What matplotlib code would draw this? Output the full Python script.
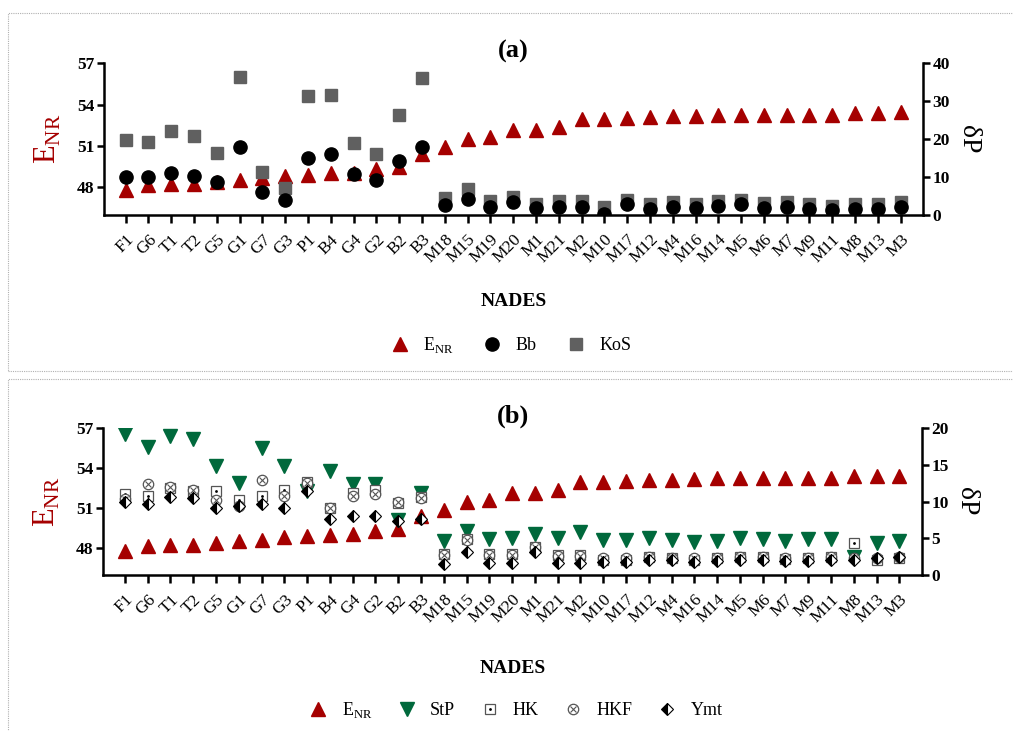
import matplotlib
matplotlib.use("Agg")
import matplotlib.pyplot as plt
from matplotlib.legend_handler import HandlerTuple
from matplotlib.patches import Rectangle

plt.rcParams['font.family'] = ['Liberation Serif', 'DejaVu Serif']
plt.rcParams['mathtext.fontset'] = 'custom'
plt.rcParams['mathtext.rm'] = 'Liberation Serif'

categories = ['F1', 'G6', 'T1', 'T2', 'G5', 'G1', 'G7', 'G3', 'P1', 'B4', 'G4', 'G2', 'B2', 'B3',
              'M18', 'M15', 'M19', 'M20', 'M1', 'M21', 'M2', 'M10', 'M17', 'M12', 'M4', 'M16',
              'M14', 'M5', 'M6', 'M7', 'M9', 'M11', 'M8', 'M13', 'M3']

ENR = [47.83, 48.19, 48.24, 48.24, 48.41, 48.56, 48.65, 48.85, 48.9, 49.02, 49.05, 49.33, 49.45, 50.42,
       50.9, 51.5, 51.65, 52.15, 52.18, 52.4, 52.96, 52.96, 53.06, 53.13, 53.15, 53.2, 53.25, 53.25,
       53.25, 53.25, 53.27, 53.27, 53.4, 53.42, 53.44]

Bb = [10.1, 10.1, 11.0, 10.3, 8.8, 17.8, 6.1, 4.0, 14.9, 16.0, 10.8, 9.1, 14.2, 17.8, 2.6, 4.2, 2.2,
      3.3, 1.8, 2.2, 2.2, 0.2, 2.8, 1.6, 2.2, 1.8, 2.4, 2.8, 1.9, 2.0, 1.6, 1.3, 1.6, 1.6, 2.0]

KoS = [19.8, 19.3, 22.2, 20.7, 16.4, 36.3, 11.4, 7.0, 31.4, 31.6, 19.1, 16.0, 26.4, 36.0, 4.4, 6.8,
       3.7, 4.8, 3.0, 3.7, 3.7, 2.1, 3.9, 2.8, 3.5, 3.0, 3.7, 4.0, 3.2, 3.3, 2.8, 2.5, 2.8, 2.8, 3.3]

StP = [19.2, 17.5, 19.0, 18.6, 14.8, 12.6, 17.3, 14.9, 11.5, 14.2, 12.4, 12.4, 7.5, 11.2, 4.6, 6.0,
       4.9, 5.1, 5.6, 5.1, 5.8, 4.8, 4.8, 5.0, 4.8, 4.5, 4.6, 5.0, 4.9, 4.6, 4.9, 4.9, 2.4, 4.4, 4.7]

HK = [11.0, 10.8, 11.8, 11.4, 11.4, 10.2, 10.8, 11.6, 12.7, 9.2, 11.2, 11.6, 9.8, 10.6, 2.8, 4.9,
      2.8, 2.8, 3.8, 2.7, 2.7, 2.1, 2.1, 2.5, 2.3, 2.1, 2.3, 2.5, 2.5, 2.2, 2.3, 2.5, 4.3, 2.1, 2.3]

HKF = [10.3, 12.4, 12.0, 11.6, 10.2, 9.4, 13.0, 10.8, 12.6, 9.2, 10.8, 11.0, 10.0, 10.5, 2.7, 4.8,
       2.7, 2.7, 3.8, 2.6, 2.6, 2.3, 2.3, 2.5, 2.3, 2.3, 2.3, 2.5, 2.5, 2.3, 2.3, 2.5, 2.3, 2.3, 2.4]

Ymt = [10.0, 9.7, 10.6, 10.5, 9.2, 9.4, 9.7, 9.2, 11.5, 7.6, 8.0, 8.0, 7.4, 7.6, 1.5, 3.2, 1.6,
       1.6, 3.1, 1.6, 1.7, 1.8, 1.8, 2.0, 2.0, 1.8, 1.9, 2.0, 2.0, 1.9, 1.9, 2.0, 2.0, 2.3, 2.5]

left_ticks = [48, 51, 54, 57]
right_ticks_a = [0, 10, 20, 30, 40]
right_ticks_b = [0, 5, 10, 15, 20]

RED = '#A50000'
GREEN = '#00693C'
GRAY = '#606060'

x = list(range(len(categories)))
ENR_LABEL = r'E$_{\mathregular{NR}}$'

fig = plt.figure(figsize=(10.13, 7.31), dpi=100)

# panel borders
for (y0, y1) in [(13, 371), (379, 740)]:
    fig.add_artist(Rectangle((8 / 1013, 1 - y1 / 731), 1.1, (y1 - y0) / 731,
                             transform=fig.transFigure, fill=False,
                             edgecolor='#b0b0b0', lw=0.8, ls=(0, (1, 1))))


def style_axes(ax, axr, rticks, rlim, xlabelpad):
    ax.set_xlim(-0.95, len(categories) - 1 + 0.98)
    ax.set_ylim(46, 57)
    ax.set_yticks(left_ticks)
    axr.set_ylim(*rlim)
    axr.set_yticks(rticks)
    for a in (ax, axr):
        a.spines['top'].set_visible(False)
        for s in a.spines.values():
            s.set_linewidth(1.8)
        a.tick_params(width=1.8, length=5, direction='out')
    ax.spines['right'].set_visible(False)
    axr.spines['left'].set_visible(False)
    axr.spines['bottom'].set_visible(False)
    ax.set_xticks(x)
    ax.set_xticklabels(categories, rotation=45, ha='right', rotation_mode='anchor', fontsize=12.5)
    ax.tick_params(axis='x', length=6, pad=6)
    for lab in ax.get_yticklabels() + axr.get_yticklabels():
        lab.set_fontweight('bold')
        lab.set_fontsize(12.5)
    ax.tick_params(axis='y', pad=2)
    axr.tick_params(axis='y', pad=2)
    ax.set_ylabel(ENR_LABEL, color=RED, fontsize=22, labelpad=10)
    axr.set_ylabel('δP', fontsize=20, rotation=270, labelpad=22)
    ax.set_xlabel('NADES', fontweight='bold', fontsize=14, labelpad=xlabelpad)


# ---------------- panel (a)
ax1 = fig.add_axes([104 / 1013, 1 - 215 / 731, (923 - 104) / 1013, (215 - 63.3) / 731])
ax1r = ax1.twinx()
style_axes(ax1, ax1r, right_ticks_a, (0, 40), 19)
h_enr, = ax1.plot(x, ENR, ls='none', marker='^', ms=10, color=RED, mec=RED, label=ENR_LABEL)
h_kos, = ax1r.plot(x, KoS, ls='none', marker='s', ms=8, color=GRAY, mec=GRAY, label='KoS')
h_bb, = ax1r.plot(x, Bb, ls='none', marker='o', ms=9.5, color='black', label='Bb')
ax1.set_title('(a)', fontweight='bold', fontsize=19, pad=4)
fig.legend(handles=[h_enr, h_bb, h_kos], labels=[ENR_LABEL, 'Bb', 'KoS'], ncol=3,
           loc='center', bbox_to_anchor=(510 / 1013, 1 - 345 / 731), frameon=False,
           fontsize=13, columnspacing=1.55, handletextpad=0.7, handlelength=1.2)

# ---------------- panel (b)
ax2 = fig.add_axes([103.3 / 1013, 1 - 575 / 731, (921.7 - 103.3) / 1013, (575 - 428.3) / 731])
ax2r = ax2.twinx()
style_axes(ax2, ax2r, right_ticks_b, (0, 20), 24)
h2_enr, = ax2.plot(x, ENR, ls='none', marker='^', ms=10, color=RED, mec=RED)
h_stp, = ax2r.plot(x, StP, ls='none', marker='v', ms=10, color=GREEN, mec=GREEN)
h_hk1, = ax2r.plot(x, HK, ls='none', marker='s', ms=7.5, mfc='white', mec='#555555', mew=0.9)
h_hk2, = ax2r.plot(x, HK, ls='none', marker='o', ms=2, color='black', mew=0)
h_hkf1, = ax2r.plot(x, HKF, ls='none', marker='o', ms=7.5, mfc='white', mec='#555555', mew=0.9)
h_hkf2, = ax2r.plot(x, HKF, ls='none', marker='x', ms=5, color='#555555', mew=0.8)
h_ymt, = ax2r.plot(x, Ymt, ls='none', marker='D', ms=6, fillstyle='left', mfc='black',
                   mfcalt='white', mec='black', mew=0.8)
ax2.set_title('(b)', fontweight='bold', fontsize=19, pad=4)
fig.legend(handles=[h2_enr, h_stp, (h_hk1, h_hk2), (h_hkf1, h_hkf2), h_ymt],
           labels=[ENR_LABEL, 'StP', 'HK', 'HKF', 'Ymt'], ncol=5,
           handler_map={tuple: HandlerTuple(ndivide=1)},
           loc='center', bbox_to_anchor=(515 / 1013, 1 - 710 / 731), frameon=False,
           fontsize=13, columnspacing=1.3, handletextpad=0.7, handlelength=1.2)

fig.savefig('out.png', dpi=100)
